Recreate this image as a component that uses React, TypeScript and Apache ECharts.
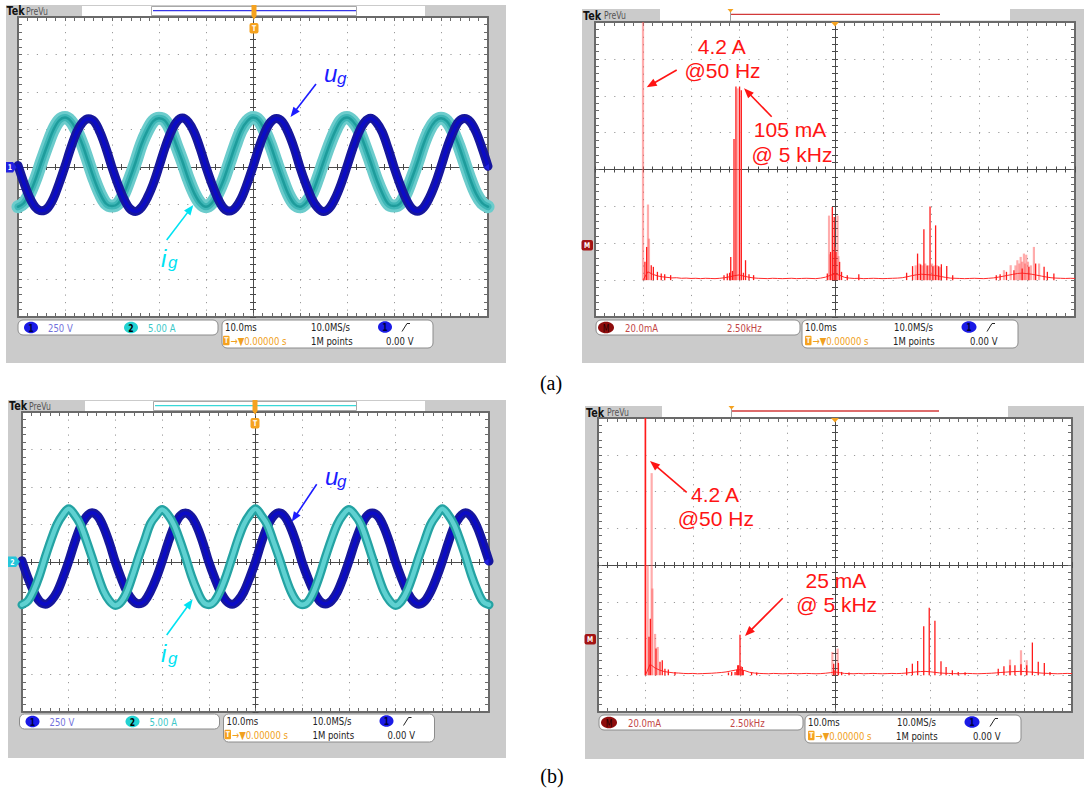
import React, { useEffect, useRef } from "react";
import * as echarts from "echarts";

// ===================== DATA =====================
// Time-domain traces: one sample every 1.25 ms, screen spans -50 ms .. +50 ms (10 ms/div)
const T_START_MS = -50;
const T_STEP_MS = 1.25;

// (a) grid voltage u_g [V]
const UG_A = [
  10, -105, -205, -270, -292, -275, -212, -110,
  5, 128, 232, 298, 322, 302, 228, 122,
  -3, -115, -210, -276, -296, -270, -206, -115,
  2, 126, 229, 301, 326, 299, 231, 124,
  0, -112, -208, -274, -294, -272, -210, -112,
  3, 127, 231, 300, 324, 301, 229, 126,
  -2, -114, -211, -272, -297, -274, -208, -113,
  4, 125, 230, 299, 325, 298, 232, 123,
  -1, -113, -209, -275, -295, -271, -207, -114,
  2, 126, 228, 302, 323, 300, 230, 125,
  5,
];
// (a) grid current i_g [A]
const IG_A = [
  -5.3, -4.8, -3.5, -1.6, 0.7, 2.9, 4.9, 6.2, 6.6, 6.1, 4.8, 2.9, 0.6, -1.7, -3.6, -4.9,
  -5.2, -4.9, -3.6, -1.6, 0.6, 3.0, 4.8, 6.1, 6.5, 6.2, 4.9, 2.8, 0.7, -1.6, -3.5, -4.8,
  -5.3, -4.8, -3.5, -1.7, 0.6, 2.9, 4.9, 6.1, 6.6, 6.2, 4.8, 2.9, 0.6, -1.6, -3.6, -4.9,
  -5.3, -4.8, -3.6, -1.6, 0.7, 2.9, 4.8, 6.2, 6.6, 6.1, 4.9, 2.9, 0.7, -1.6, -3.5, -4.9,
  -5.2, -4.9, -3.6, -1.6, 0.6, 3.0, 4.9, 6.1, 6.5, 6.1, 4.8, 2.9, 0.6, -1.7, -3.6, -4.8,
  -5.3,
];
// (b) grid voltage u_g [V]
const UG_B = [
  8, -104, -196, -262, -281, -257, -200, -106,
  4, 127, 233, 301, 329, 304, 230, 124,
  -2, -109, -199, -258, -279, -261, -197, -108,
  3, 125, 231, 304, 327, 302, 233, 127,
  0, -106, -198, -260, -282, -258, -199, -105,
  2, 128, 232, 302, 328, 303, 231, 125,
  -3, -108, -197, -261, -280, -259, -201, -107,
  5, 126, 230, 303, 326, 304, 232, 126,
  -1, -107, -198, -259, -281, -260, -198, -106,
  3, 125, 233, 301, 329, 302, 230, 124,
  6,
];
// (b) grid current i_g [A]
const IG_B = [
  -5.7, -5.2, -3.8, -1.8, 0.7, 3.0, 5.0, 6.3, 7.1, 6.3, 5.0, 2.9, 0.6, -1.8, -3.9, -5.2,
  -5.8, -5.3, -3.9, -1.7, 0.7, 2.9, 5.1, 6.2, 7.0, 6.3, 5.0, 3.0, 0.7, -1.8, -3.8, -5.3,
  -5.7, -5.2, -3.8, -1.8, 0.6, 3.0, 5.0, 6.3, 7.1, 6.2, 5.0, 2.9, 0.7, -1.7, -3.8, -5.2,
  -5.7, -5.3, -3.9, -1.8, 0.7, 3.0, 5.0, 6.3, 7.0, 6.3, 5.1, 3.0, 0.6, -1.8, -3.9, -5.2,
  -5.8, -5.2, -3.8, -1.7, 0.7, 2.9, 5.0, 6.2, 7.1, 6.3, 5.0, 3.0, 0.7, -1.8, -3.8, -5.3,
  -5.7,
];

// FFT noise floor [mA], one sample every 0.25 kHz from 0 kHz to 22.5 kHz
const F_STEP_KHZ = 0.25;
const FLOOR_A = [
  0.0, 4.5, 3.2, 2.3, 1.8, 1.5, 1.2, 1.3, 1.0, 1.1, 0.9, 1.0, 0.8, 1.0, 0.9, 0.8,
  1.0, 1.3, 1.8, 2.4, 2.8, 2.2, 1.6, 1.2, 1.0, 0.9, 0.8, 1.0, 0.9, 0.8, 0.9, 1.0,
  0.8, 0.9, 1.0, 0.9, 0.8, 1.1, 1.6, 2.6, 3.4, 2.6, 1.5, 1.1, 0.9, 1.0, 0.8, 0.9,
  1.0, 0.9, 0.8, 0.9, 1.0, 1.1, 1.3, 1.8, 2.4, 2.9, 3.2, 3.0, 2.8, 2.5, 2.0, 1.5,
  1.1, 1.0, 0.9, 0.8, 0.9, 1.0, 0.9, 0.8, 1.0, 1.2, 1.6, 2.1, 2.6, 3.1, 3.6, 3.8,
  3.5, 3.2, 2.7, 2.2, 1.7, 1.3, 1.1, 1.0, 0.9, 1.0, 0.9,
];
const FLOOR_B = [
  0.0, 6.0, 4.0, 2.8, 2.0, 1.6, 1.3, 1.2, 1.0, 0.9, 1.0, 0.8, 0.9, 1.0, 1.1, 1.3,
  1.5, 1.8, 2.3, 2.8, 3.0, 2.5, 1.6, 1.2, 1.0, 0.9, 0.8, 1.0, 0.9, 0.8, 0.9, 1.0,
  0.8, 0.9, 1.0, 0.9, 0.8, 0.9, 1.1, 1.4, 1.8, 1.4, 1.0, 0.9, 0.8, 1.0, 0.8, 0.9,
  1.0, 0.9, 0.8, 0.9, 1.0, 0.9, 1.0, 1.2, 1.5, 1.8, 2.0, 2.1, 1.9, 1.6, 1.3, 1.1,
  1.0, 0.9, 0.8, 0.9, 1.0, 0.9, 0.8, 0.9, 1.0, 1.1, 1.3, 1.5, 1.7, 1.9, 2.0, 2.1,
  2.0, 1.8, 1.6, 1.3, 1.1, 1.0, 0.9, 0.8, 0.9, 1.0, 0.9,
];

// spectral lines [kHz, mA] — solid red and faint (persistence) pink
const LINES_A_RED = [
  [0.10, 9.9], [0.19, 18], [0.43, 8.1], [0.54, 7.2], [0.75, 4.5], [0.95, 3.6], [1.13, 3.2], [1.44, 2.7],
  [4.22, 2.7], [4.39, 3.6], [4.51, 4], [4.57, 12.6], [4.66, 5.0], [4.74, 76.6], [4.84, 105], [5.03, 105],
  [5.12, 103], [5.23, 4], [5.34, 10.8], [5.52, 3.2], [5.76, 2.7],
  [9.60, 3.6], [9.77, 15.3], [9.86, 39.6], [9.96, 34.2], [10.05, 15.3], [10.24, 9.9], [10.34, 4.5], [10.64, 2.7], [11.24, 3.2],
  [13.73, 4], [14.04, 7.6], [14.30, 14.4], [14.46, 8.5], [14.63, 27.6], [14.80, 8], [14.95, 40], [15.10, 7.5],
  [15.24, 29.7], [15.40, 7.5], [15.54, 8.6], [15.82, 7.7], [16.13, 2.7],
  [18.40, 2.7], [18.60, 3.2], [18.93, 4.5], [19.32, 5.4], [19.75, 6.3], [20.10, 7.2], [20.45, 9.0], [20.89, 7.2], [21.06, 4.5], [21.40, 3.6],
];
const LINES_A_PINK = [
  [0.0, 4200], [0.26, 41], [0.31, 22.5],
  [4.93, 104],
  [9.69, 35], [10.13, 35], [9.74, 14], [9.90, 16], [10.0, 18], [10.18, 13],
  [14.20, 8], [14.40, 9], [14.55, 8], [14.70, 9], [14.88, 8], [15.05, 9], [15.18, 8], [15.32, 8], [15.48, 7],
  [18.80, 5.4], [19.15, 8.1], [19.40, 8], [19.50, 10.8], [19.60, 9], [19.67, 12.6], [19.75, 10], [19.84, 14.4],
  [19.90, 9], [19.96, 13.8], [20.05, 10], [20.20, 8], [20.36, 18], [20.63, 9],
];
const LINES_B_RED = [
  [0.0, 4200], [0.19, 20.9], [0.26, 30.8], [0.56, 14.5], [0.77, 7.3], [0.89, 8.2], [1.03, 3.6], [1.21, 3.1], [1.56, 1.8],
  [4.38, 1.5], [4.55, 1.8], [4.73, 1.8], [4.82, 3.1], [4.87, 5.4], [4.92, 5.4], [4.99, 22], [5.04, 4.9],
  [5.11, 4.5], [5.16, 2.7], [5.60, 1.5], [5.87, 1.5],
  [9.93, 6.3], [10.0, 2.7], [10.18, 6.7], [10.35, 1.8], [10.74, 1.5],
  [13.78, 4.0], [14.08, 6.3], [14.36, 7.8], [14.68, 26.7], [14.97, 36.8], [15.27, 29.6], [15.59, 7.6],
  [15.86, 4.5], [16.19, 2.7], [16.50, 1.8], [16.86, 1.6],
  [18.61, 3.6], [18.91, 4.9], [19.23, 5.4], [19.49, 5.4], [19.81, 6.0], [20.11, 5.4], [20.41, 17.8],
  [20.72, 7.3], [21.04, 6.7], [21.34, 1.8],
];
const LINES_B_PINK = [
  [0.0, 4200], [0.12, 60], [0.33, 110], [0.37, 47.2], [0.51, 22.5], [0.65, 15.4],
  [9.86, 12.7], [10.14, 14.5],
  [19.23, 8.5], [19.81, 13.6], [20.11, 8.2],
];

// scope settings (axis ranges)
const TIME_RANGE_MS = [-50, 50]; // 10 ms/div
const UG_RANGE_V = [-1000, 1000]; // 250 V/div
const IG_RANGE_A = [-20, 20]; // 5 A/div
const FREQ_RANGE_KHZ = [-2.5, 22.5]; // 2.5 kHz/div
const AMP_RANGE_MA = [-20, 140]; // 20 mA/div

// readout texts
const LEFT_READOUT = ["250 V", "5.00 A", "10.0ms", "10.0MS/s", "\u2192\u25BC0.00000 s", "1M points", "0.00 V"];
const RIGHT_READOUT = ["20.0mA", "2.50kHz", "10.0ms", "10.0MS/s", "\u2192\u25BC0.00000 s", "1M points", "0.00 V"];

// ===================== STYLE HELPERS =====================
const GRAY = "#cbcbcb";
const ORANGE = "#f5a21f";
const BORDER = "#6a6a6a";
const CENTER = "#4a4a4a";
const DOT = "#9a9a9a";
const FONT_UI = '"Liberation Sans Narrow", "DejaVu Sans Condensed", "Arial Narrow", "Liberation Sans", sans-serif';
const FONT_ANN = '"Liberation Sans", Arial, Helvetica, sans-serif';
const FONT_CAP = '"Liberation Serif", "Times New Roman", serif';
const BLUE_ANN = "#1c1cff";
const CYAN_ANN = "#00e2f2";
const RED_ANN = "#ff1414";

function R(x: number, y: number, w: number, h: number, fill: string, o: any = {}) {
  return {
    type: "rect", silent: true, z: o.z ?? -5,
    shape: { x, y, width: w, height: h, r: o.r ?? 0 },
    style: { fill, stroke: o.stroke ?? null, lineWidth: o.lw ?? 1 },
  };
}
function E(cx: number, cy: number, rx: number, ry: number, fill: string, z = -4) {
  return { type: "ellipse", silent: true, z, shape: { cx, cy, rx, ry }, style: { fill } };
}
function L(x1: number, y1: number, x2: number, y2: number, stroke: string, lw = 1, z = -4) {
  return { type: "line", silent: true, z, shape: { x1, y1, x2, y2 }, style: { stroke, lineWidth: lw } };
}
function P(points: number[][], fill: string, z = -4) {
  return { type: "polygon", silent: true, z, shape: { points }, style: { fill } };
}
function PL(points: number[][], stroke: string, lw = 1, z = -4) {
  return { type: "polyline", silent: true, z, shape: { points }, style: { stroke, lineWidth: lw, fill: "none" } };
}
function T(x: number, y: number, text: string, o: any = {}) {
  const al = o.al ?? "left";
  const ff = o.ff ?? FONT_UI;
  return {
    type: "text", silent: true, z: o.z ?? -3, x, y,
    scaleX: ff === FONT_UI ? 0.86 : 1,
    style: {
      text, fill: o.color ?? "#222", fontSize: o.fs ?? 11, fontFamily: ff,
      fontWeight: o.fw ?? "normal", fontStyle: o.fi ?? "normal",
      align: al, verticalAlign: "middle", textAlign: al, textVerticalAlign: "middle",
    },
  };
}
function arrow(x1: number, y1: number, x2: number, y2: number, color: string, lw = 1.6, hl = 10, hw = 4) {
  const dx = x2 - x1, dy = y2 - y1, len = Math.hypot(dx, dy);
  const ux = dx / len, uy = dy / len;
  const bx = x2 - ux * hl, by = y2 - uy * hl;
  return [
    L(x1, y1, bx + ux * 2, by + uy * 2, color, lw, 100),
    P([[x2, y2], [bx - uy * hw, by + ux * hw], [bx + uy * hw, by - ux * hw]], color, 100),
  ];
}

function statusLeft(dx: number, dy: number) {
  const blue = "#1a1ae6";
  return [
    R(18 + dx, 320 + dy, 200, 15, "#fff", { stroke: "#8c8c8c", r: 5 }),
    E(31 + dx, 327.5 + dy, 7, 5.8, blue),
    T(31 + dx, 327.8 + dy, "1", { fs: 10, fw: "bold", color: "#000040", al: "center" }),
    T(48 + dx, 327.8 + dy, LEFT_READOUT[0], { color: "#7272dc" }),
    E(131 + dx, 327.5 + dy, 7, 5.8, "#22d2d2"),
    T(131 + dx, 327.8 + dy, "2", { fs: 10, fw: "bold", color: "#000", al: "center" }),
    T(148 + dx, 327.8 + dy, LEFT_READOUT[1], { color: "#3cc8c8" }),
    R(222 + dx, 320 + dy, 211, 28, "#fff", { stroke: "#8c8c8c", r: 5 }),
    T(225 + dx, 327 + dy, LEFT_READOUT[2], { color: "#222" }),
    T(311 + dx, 327 + dy, LEFT_READOUT[3], { color: "#222" }),
    E(385 + dx, 327 + dy, 7, 5.8, blue),
    T(385 + dx, 327.3 + dy, "1", { fs: 10, fw: "bold", color: "#000040", al: "center" }),
    PL([[402 + dx, 331.5 + dy], [407 + dx, 323.5 + dy], [410 + dx, 323.5 + dy]], "#222", 1),
    R(223 + dx, 335.8 + dy, 6.5, 9.5, ORANGE, { r: 1, z: -4 }),
    T(226.3 + dx, 340.6 + dy, "T", { fs: 8, fw: "bold", color: "#fff", al: "center" }),
    T(230.5 + dx, 340.6 + dy, LEFT_READOUT[4], { color: "#f0a020" }),
    T(311 + dx, 340.6 + dy, LEFT_READOUT[5], { color: "#222" }),
    T(386 + dx, 340.6 + dy, LEFT_READOUT[6], { color: "#222" }),
  ];
}
function statusRight(dx: number, dy: number) {
  const blue = "#1a1ae6";
  return [
    R(596 + dx, 320 + dy, 204, 15, "#fff", { stroke: "#8c8c8c", r: 5 }),
    E(606 + dx, 327.5 + dy, 8, 5.8, "#8e0c0c"),
    T(606 + dx, 327.8 + dy, "M", { fs: 10, color: "#2a0000", al: "center" }),
    T(625 + dx, 327.8 + dy, RIGHT_READOUT[0], { color: "#c24545" }),
    T(727 + dx, 327.8 + dy, RIGHT_READOUT[1], { color: "#c24545" }),
    R(802 + dx, 320 + dy, 216, 28, "#fff", { stroke: "#8c8c8c", r: 5 }),
    T(805 + dx, 327 + dy, RIGHT_READOUT[2], { color: "#222" }),
    T(894 + dx, 327 + dy, RIGHT_READOUT[3], { color: "#222" }),
    E(969 + dx, 327 + dy, 7.5, 5.8, blue),
    T(969 + dx, 327.3 + dy, "1", { fs: 10, fw: "bold", color: "#000040", al: "center" }),
    PL([[987 + dx, 331.5 + dy], [992 + dx, 323.5 + dy], [995 + dx, 323.5 + dy]], "#222", 1),
    R(805 + dx, 335.8 + dy, 6.5, 9.5, ORANGE, { r: 1, z: -4 }),
    T(808.3 + dx, 340.6 + dy, "T", { fs: 8, fw: "bold", color: "#fff", al: "center" }),
    T(812.5 + dx, 340.6 + dy, RIGHT_READOUT[4], { color: "#f0a020" }),
    T(893 + dx, 340.6 + dy, RIGHT_READOUT[5], { color: "#222" }),
    T(970 + dx, 340.6 + dy, RIGHT_READOUT[6], { color: "#222" }),
  ];
}

function chrome() {
  const gA = [
    R(6, 5, 500, 358, GRAY, { z: -10 }),
    R(82, 6, 343, 10, "#fff"),
    R(151.5, 6.5, 205, 9, "none", { stroke: "#a8a8a8" }),
    L(153, 10.7, 356, 10.7, "#3535e6", 1.2),
    T(6.5, 11.2, "Tek", { fs: 12.5, fw: "bold", color: "#111" }),
    T(26, 11.6, "PreVu", { fs: 10, color: "#555" }),
    R(251.5, 5, 5, 11, ORANGE, { z: 50 }),
    P([[251.5, 16], [256.5, 16], [254, 19.5]], ORANGE, 50),
    R(249.5, 23, 9, 10.5, ORANGE, { r: 2, z: 50 }),
    T(254, 28.5, "T", { fs: 8, fw: "bold", color: "#fff", al: "center", z: 51 }),
    P([[6, 162], [13, 162], [16.5, 167.3], [13, 172.5], [6, 172.5]], "#2121e0", 50),
    T(10, 167.5, "1", { fs: 8, fw: "bold", color: "#fff", al: "center", z: 51 }),
    P([[484, 167.3], [489, 164], [489, 170.6]], "#2121e0", 50),
    ...statusLeft(0, 0),
  ];
  const gC = [
    R(8, 400, 498, 358, GRAY, { z: -10 }),
    R(85, 401, 340, 10, "#fff"),
    R(153.5, 401.5, 203, 9, "none", { stroke: "#a8a8a8" }),
    L(155, 405.7, 356, 405.7, "#38d8d8", 1.2),
    T(9, 406.2, "Tek", { fs: 12.5, fw: "bold", color: "#111" }),
    T(29, 406.6, "PreVu", { fs: 10, color: "#555" }),
    R(252.5, 400, 5, 11, ORANGE, { z: 50 }),
    P([[252.5, 411], [257.5, 411], [255, 414.5]], ORANGE, 50),
    R(250.5, 418, 9, 10.5, ORANGE, { r: 2, z: 50 }),
    T(255, 423.5, "T", { fs: 8, fw: "bold", color: "#fff", al: "center", z: 51 }),
    P([[8, 556.5], [16, 556.5], [20, 561.8], [16, 567], [8, 567]], "#26c6da", 50),
    T(12.5, 562, "2", { fs: 8, fw: "bold", color: "#fff", al: "center", z: 51 }),
    P([[483.5, 562], [488.5, 558.7], [488.5, 565.3]], "#2121e0", 50),
    ...statusLeft(1.5, 394),
  ];
  const gB = [
    R(582, 9, 502, 354, GRAY, { z: -10 }),
    R(660, 9, 350, 11.5, "#fff"),
    T(583, 15.3, "Tek", { fs: 12.5, fw: "bold", color: "#111" }),
    T(604, 15.7, "PreVu", { fs: 10, color: "#555" }),
    L(731, 14.3, 940, 14.3, "#d23a3a", 1.3),
    L(730.5, 9, 730.5, 21, "#a0a0a0", 1),
    P([[727.5, 9], [733.5, 9], [730.5, 12.5]], ORANGE),
    P([[831, 22], [839, 22], [835, 26.5]], ORANGE, 50),
    R(581.5, 240, 11.5, 10.5, "#a31414", { r: 2, z: 50 }),
    T(587.2, 245.3, "M", { fs: 8, fw: "bold", color: "#fff", al: "center", z: 51 }),
    ...statusRight(0, 0),
  ];
  const gD = [
    R(585, 406, 499, 353, GRAY, { z: -10 }),
    R(662, 406, 346, 11.5, "#fff"),
    T(586, 412.3, "Tek", { fs: 12.5, fw: "bold", color: "#111" }),
    T(607, 412.7, "PreVu", { fs: 10, color: "#555" }),
    L(732, 411, 939, 411, "#d23a3a", 1.3),
    L(731.5, 406, 731.5, 418, "#a0a0a0", 1),
    P([[728.5, 406], [734.5, 406], [731.5, 409.5]], ORANGE),
    P([[831, 418], [839, 418], [835, 422.5]], ORANGE, 50),
    R(584.5, 634, 11.5, 10.5, "#a31414", { r: 2, z: 50 }),
    T(590.2, 639.3, "M", { fs: 8, fw: "bold", color: "#fff", al: "center", z: 51 }),
    ...statusRight(3, 395),
  ];
  const ann = (x: number, y: number, s: string, color: string, fs: number, italic = false, al = "left") =>
    T(x, y, s, { fs, color, ff: FONT_ANN, fi: italic ? "italic" : "normal", al, z: 100 });
  const notes = [
    // (a) time domain
    ann(324, 73.6, "u", BLUE_ANN, 24, true), ann(337, 78, "g", BLUE_ANN, 17, true),
    ...arrow(316, 84, 290.5, 117, BLUE_ANN),
    ann(161, 258.6, "i", CYAN_ANN, 24, true), ann(168, 262.5, "g", CYAN_ANN, 17, true),
    ...arrow(166.7, 240, 193.3, 205, CYAN_ANN),
    // (a) spectrum
    ann(721.7, 46.6, "4.2 A", RED_ANN, 21, false, "center"),
    ann(722.5, 70, "@50 Hz", RED_ANN, 21, false, "center"),
    ...arrow(676.7, 70, 646.7, 87.3, RED_ANN),
    ann(790, 129.6, "105 mA", RED_ANN, 21, false, "center"),
    ann(792, 154.3, "@ 5 kHz", RED_ANN, 21, false, "center"),
    ...arrow(771.7, 116.7, 744, 88.3, RED_ANN),
    // (b) time domain
    ann(325, 476.6, "u", BLUE_ANN, 24, true), ann(337, 481, "g", BLUE_ANN, 17, true),
    ...arrow(316.7, 484.3, 291.7, 521.7, BLUE_ANN),
    ann(161, 653.6, "i", CYAN_ANN, 24, true), ann(168, 658, "g", CYAN_ANN, 17, true),
    ...arrow(166.7, 635, 192.7, 599.3, CYAN_ANN),
    // (b) spectrum
    ann(715, 494.3, "4.2 A", RED_ANN, 21, false, "center"),
    ann(715.8, 518.3, "@50 Hz", RED_ANN, 21, false, "center"),
    ...arrow(686.7, 492.3, 650, 461, RED_ANN),
    ann(835.8, 580, "25 mA", RED_ANN, 21, false, "center"),
    ann(836.7, 604.3, "@ 5 kHz", RED_ANN, 21, false, "center"),
    ...arrow(782.7, 598.3, 745, 636, RED_ANN),
    // captions
    T(551, 383, "(a)", { fs: 20, ff: FONT_CAP, color: "#000", al: "center", z: 100 }),
    T(552, 776, "(b)", { fs: 20, ff: FONT_CAP, color: "#000", al: "center", z: 100 }),
  ];
  return [...gA, ...gB, ...gC, ...gD, ...notes];
}

// ===================== OPTION =====================
function buildOption() {
  const grid: any[] = [];
  const xAxis: any[] = [];
  const yAxis: any[] = [];
  const series: any[] = [];

  function addGrid(left: number, top: number, width: number, height: number) {
    const gi = grid.length;
    grid.push({ left, top, width, height, show: true, backgroundColor: "#ffffff", borderWidth: 0, containLabel: false, outerBoundsMode: "none" });
    const pxX = width / 10, pxY = height / 8;
    const dotV = [1.2, pxY / 5 - 1.2];
    const dotH = [1.2, pxX / 5 - 1.2];
    const xb = xAxis.length, yb = yAxis.length;
    const base = { gridIndex: gi, type: "value", axisLabel: { show: false }, silent: true };
    const tick = (inside: boolean, color: string, len: number) => ({
      axisTick: { show: true, inside, length: len, lineStyle: { color, width: 1 } },
      minorTick: { show: true, splitNumber: 5, length: len, lineStyle: { color, width: 1 } },
    });
    const gx = { ...base, min: -5, max: 5, interval: 1 };
    const gy = { ...base, min: -4, max: 4, interval: 1 };
    xAxis.push({ ...gx, position: "bottom", axisLine: { show: true, onZero: false, lineStyle: { color: BORDER, width: 2 } }, ...tick(true, BORDER, 4), splitLine: { show: true, lineStyle: { color: DOT, width: 1, type: dotV } } });
    xAxis.push({ ...gx, position: "top", axisLine: { show: true, onZero: false, lineStyle: { color: BORDER, width: 2 } }, ...tick(true, BORDER, 4), splitLine: { show: false } });
    xAxis.push({ ...gx, position: "bottom", axisLine: { show: true, onZero: true, onZeroAxisIndex: yb, lineStyle: { color: CENTER, width: 1 } }, ...tick(true, CENTER, 3), splitLine: { show: false } });
    xAxis.push({ ...gx, position: "bottom", axisLine: { show: true, onZero: true, onZeroAxisIndex: yb, lineStyle: { color: CENTER, width: 1 } }, ...tick(false, CENTER, 3), splitLine: { show: false } });
    yAxis.push({ ...gy, position: "left", axisLine: { show: true, onZero: false, lineStyle: { color: BORDER, width: 2 } }, ...tick(true, BORDER, 4), splitLine: { show: true, lineStyle: { color: DOT, width: 1, type: dotH } } });
    yAxis.push({ ...gy, position: "right", axisLine: { show: true, onZero: false, lineStyle: { color: BORDER, width: 2 } }, ...tick(true, BORDER, 4), splitLine: { show: false } });
    yAxis.push({ ...gy, position: "left", axisLine: { show: true, onZero: true, onZeroAxisIndex: xb, lineStyle: { color: CENTER, width: 1 } }, ...tick(true, CENTER, 3), splitLine: { show: false } });
    yAxis.push({ ...gy, position: "left", axisLine: { show: true, onZero: true, onZeroAxisIndex: xb, lineStyle: { color: CENTER, width: 1 } }, ...tick(false, CENTER, 3), splitLine: { show: false } });
    return gi;
  }
  const dataX = (gi: number, r: number[]) => { xAxis.push({ gridIndex: gi, type: "value", min: r[0], max: r[1], show: false }); return xAxis.length - 1; };
  const dataY = (gi: number, r: number[]) => { yAxis.push({ gridIndex: gi, type: "value", min: r[0], max: r[1], show: false }); return yAxis.length - 1; };

  const timePts = (arr: number[]) => arr.map((v, k) => [T_START_MS + k * T_STEP_MS, v]);
  const trace = (xi: number, yi: number, data: any[], color: string, width: number, z: number) => ({
    type: "line", xAxisIndex: xi, yAxisIndex: yi, data, showSymbol: false, symbol: "none", smooth: 0.35,
    lineStyle: { color, width, cap: "round", join: "round" }, silent: true, z, clip: true,
  });

  function addScope(left: number, top: number, width: number, height: number, ug: number[], ig: number[], variant: "a" | "b") {
    const gi = addGrid(left, top, width, height);
    const tx = dataX(gi, TIME_RANGE_MS);
    const uy = dataY(gi, UG_RANGE_V);
    const iy = dataY(gi, IG_RANGE_A);
    const u = timePts(ug), i = timePts(ig);
    const zU = variant === "a" ? 5 : 3;
    const zI = variant === "a" ? 3 : 5;
    series.push(trace(tx, uy, u, "#16169c", 9, zU));
    series.push(trace(tx, uy, u, "#0b0bc6", 3.5, zU));
    if (variant === "a") {
      series.push(trace(tx, iy, i, "#6ccccc", 13, zI));
      series.push(trace(tx, iy, i, "#3fb7b7", 7, zI));
      series.push(trace(tx, iy, i, "#1e9c9c", 2.5, zI));
    } else {
      series.push(trace(tx, iy, i, "#24a3a3", 9, zI));
      series.push(trace(tx, iy, i, "#5fd1d1", 4.5, zI));
    }
  }

  const spike = (color: string, width: number) => (params: any, api: any) => {
    const f = api.value(0), v = api.value(1);
    const p0 = api.coord([f, 0]);
    const p1 = api.coord([f, v]);
    return { type: "line", shape: { x1: p0[0], y1: p0[1], x2: p1[0], y2: p1[1] }, style: { stroke: color, lineWidth: width } };
  };

  function addSpectrum(left: number, top: number, width: number, height: number, floor: number[], red: number[][], pink: number[][]) {
    const gi = addGrid(left, top, width, height);
    const fx = dataX(gi, FREQ_RANGE_KHZ);
    const my = dataY(gi, AMP_RANGE_MA);
    series.push({ type: "custom", xAxisIndex: fx, yAxisIndex: my, data: pink, renderItem: spike("rgba(255,90,90,0.5)", 2.2), clip: true, silent: true, z: 3 });
    series.push({
      type: "line", xAxisIndex: fx, yAxisIndex: my, data: floor.map((v, k) => [k * F_STEP_KHZ, v]),
      showSymbol: false, symbol: "none", lineStyle: { color: "#ff2a2a", width: 1 }, silent: true, z: 4, clip: true,
    });
    series.push({ type: "custom", xAxisIndex: fx, yAxisIndex: my, data: red, renderItem: spike("#ff1a1a", 1.3), clip: true, silent: true, z: 5 });
  }

  addScope(18, 17, 470, 300, UG_A, IG_A, "a");
  addSpectrum(595, 22, 480, 295, FLOOR_A, LINES_A_RED, LINES_A_PINK);
  addScope(22, 412, 467, 300, UG_B, IG_B, "b");
  addSpectrum(598, 418, 474, 294, FLOOR_B, LINES_B_RED, LINES_B_PINK);

  return {
    animation: false,
    backgroundColor: "#ffffff",
    grid, xAxis, yAxis, series,
    graphic: { elements: chrome() },
  };
}

export default function App() {
  const ref = useRef<HTMLDivElement>(null);
  useEffect(() => {
    if (!ref.current) return;
    const chart = echarts.init(ref.current, null, { renderer: "svg", width: 1084, height: 793 });
    chart.setOption(buildOption() as any);
    return () => chart.dispose();
  }, []);
  return <div ref={ref} style={{ position: "absolute", left: 0, top: 0, width: 1084, height: 793, background: "#fff" }} />;
}
